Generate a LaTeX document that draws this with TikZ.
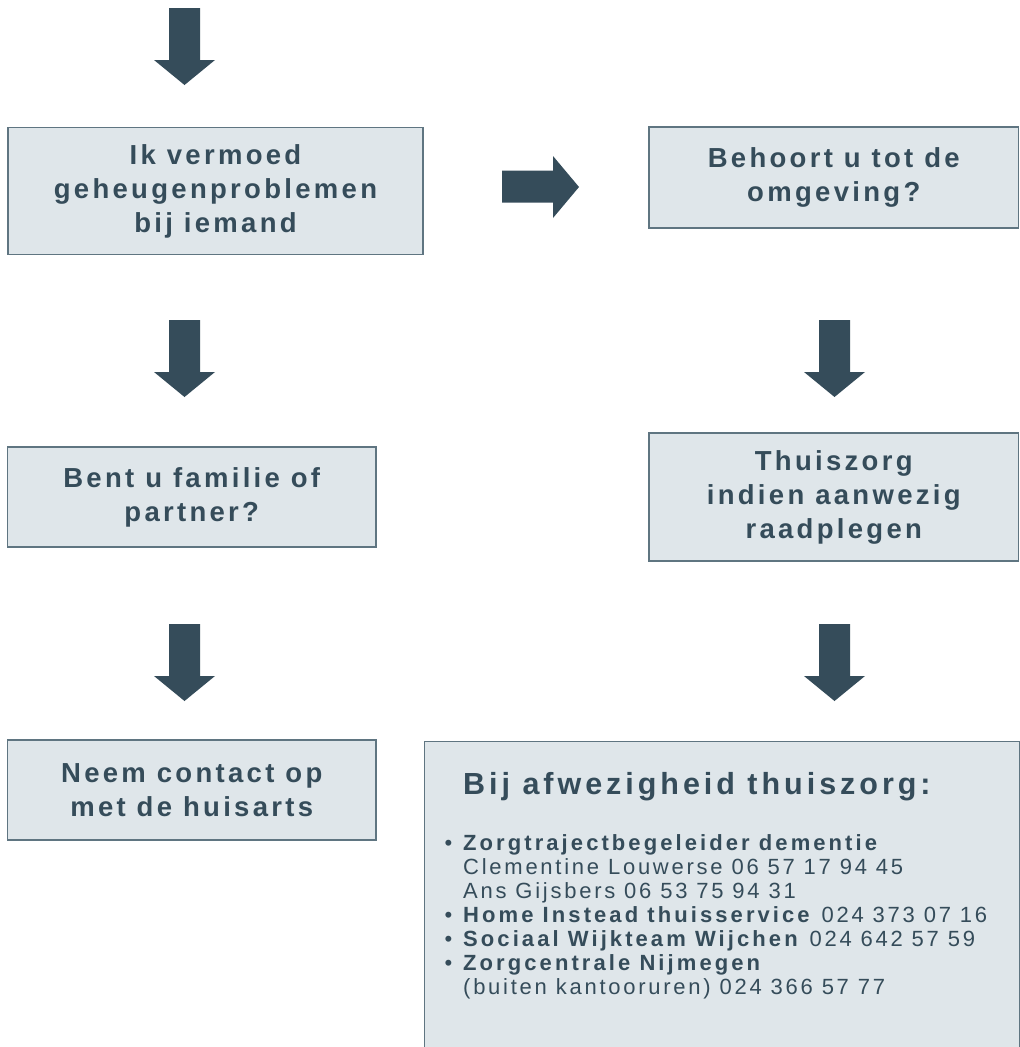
\documentclass[tikz,border=0pt]{standalone}
\usepackage{fontspec}
\setmainfont{Liberation Sans}
\newfontfamily\vakfont[LetterSpace=12]{Liberation Sans}
\newfontfamily\kopfont[LetterSpace=13]{Liberation Sans}
\newfontfamily\lijstfont[LetterSpace=12.5,BoldFeatures={LetterSpace=14}]{Liberation Sans}
\usepackage{tikz}
\definecolor{leisteen}{HTML}{354C5A}
\definecolor{vakgrijs}{HTML}{DFE6EA}
\definecolor{randgrijs}{HTML}{5F7581}
\tikzset{
  vak/.style={rectangle,draw=randgrijs,fill=vakgrijs,line width=1.4pt,align=center,
    text=leisteen,inner sep=0pt,font=\vakfont\fontsize{27.5}{34}\selectfont\bfseries},
  pijl/.style={fill=leisteen,draw=none},
  tekst/.style={inner sep=0pt,text=leisteen},
}

\begin{document}
\begin{tikzpicture}[x=1pt,y=-1pt]
\useasboundingbox (0,0) rectangle (1020,1047);
% vakken
\node[vak,minimum width=415pt,minimum height=127pt] (vermoed) at (215.5,191) {Ik vermoed\\geheugenproblemen\\bij iemand};
\node[vak,minimum width=369.5pt,minimum height=101pt] (omgeving) at (833.75,177.5) {Behoort u tot de\\omgeving?};
\node[vak,minimum width=368.5pt,minimum height=100pt] (familie) at (191.75,497) {Bent u familie of\\partner?};
\node[vak,minimum width=369.5pt,minimum height=128pt] (thuiszorg) at (833.75,497) {Thuiszorg\\indien aanwezig\\raadplegen};
\node[vak,minimum width=368.5pt,minimum height=100pt] (huisarts) at (191.75,790) {Neem contact op\\met de huisarts};
\node[vak,anchor=north west,minimum width=595pt,minimum height=330pt] (afwezig) at (424,741) {};
% tekst in het onderste vak
\node[tekst,anchor=base west,font=\kopfont\fontsize{30.5}{34}\selectfont\bfseries] (afwezigkop) at (463,794) {Bij afwezigheid thuiszorg:};
\node[tekst,anchor=north west,align=left,font=\lijstfont\fontsize{22}{24}\selectfont] (afweziglijst) at (463,834) {%
\llap{\textbullet\hspace{11pt}}\textbf{Zorgtrajectbegeleider dementie}\\
Clementine Louwerse 06 57 17 94 45\\
Ans Gijsbers 06 53 75 94 31\\
\llap{\textbullet\hspace{11pt}}\textbf{Home Instead thuisservice} 024 373 07 16\\
\llap{\textbullet\hspace{11pt}}\textbf{Sociaal Wijkteam Wijchen} 024 642 57 59\\
\llap{\textbullet\hspace{11pt}}\textbf{Zorgcentrale Nijmegen}\\
(buiten kantooruren) 024 366 57 77};
% blokpijlen omlaag
\foreach \x/\y in {184.5/8,184.5/320,184.5/624,834.5/320,834.5/624}{
  \fill[pijl] (\x-15.5,\y) -- (\x+15.5,\y) -- (\x+15.5,\y+52) -- (\x+30.5,\y+52)
    -- (\x,\y+77) -- (\x-30.5,\y+52) -- (\x-15.5,\y+52) -- cycle;}
% blokpijl naar rechts
\fill[pijl] (502,170.5) -- (553,170.5) -- (553,156) -- (579,187) -- (553,218) -- (553,202.5) -- (502,202.5) -- cycle;
\end{tikzpicture}
\end{document}
